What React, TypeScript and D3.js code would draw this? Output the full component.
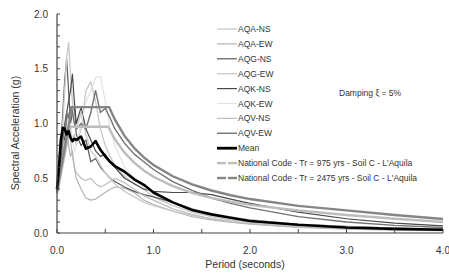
import React from "react";
import * as d3 from "d3";

const periods = [0, 0.02, 0.04, 0.06, 0.08, 0.1, 0.12, 0.14, 0.16, 0.18, 0.2, 0.25, 0.3, 0.35, 0.4, 0.45, 0.5, 0.55, 0.6, 0.7, 0.8, 0.9, 1.0, 1.2, 1.4, 1.6, 1.8, 2.0, 2.5, 3.0, 3.5, 4.0];

const aqaNS = [0.37, 0.45, 0.6, 0.75, 0.9, 1.0, 1.1, 0.95, 0.85, 0.9, 0.8, 0.95, 1.3, 1.38, 1.2, 0.95, 0.8, 0.7, 0.62, 0.52, 0.45, 0.4, 0.33, 0.25, 0.19, 0.15, 0.12, 0.1, 0.065, 0.045, 0.035, 0.028];
const aqaEW = [0.36, 0.4, 0.55, 0.7, 0.85, 0.95, 0.8, 0.7, 0.75, 0.6, 0.5, 0.4, 0.32, 0.3, 0.31, 0.34, 0.37, 0.4, 0.42, 0.41, 0.37, 0.3, 0.26, 0.2, 0.15, 0.12, 0.1, 0.08, 0.05, 0.035, 0.027, 0.022];
const aqgNS = [0.38, 0.5, 0.8, 1.1, 1.4, 1.59, 1.3, 1.0, 1.1, 1.15, 0.9, 0.8, 0.85, 0.65, 0.68, 0.6, 0.55, 0.5, 0.47, 0.42, 0.38, 0.35, 0.33, 0.28, 0.22, 0.17, 0.14, 0.12, 0.08, 0.06, 0.045, 0.035];
const aqgEW = [0.36, 0.45, 0.7, 1.0, 1.3, 1.6, 1.74, 1.45, 1.2, 1.0, 0.95, 1.1, 0.9, 0.75, 0.7, 0.62, 0.55, 0.5, 0.45, 0.38, 0.33, 0.28, 0.25, 0.2, 0.16, 0.13, 0.11, 0.09, 0.06, 0.045, 0.035, 0.03];
const aqkNS = [0.38, 0.48, 0.7, 0.9, 0.85, 1.1, 1.2, 1.3, 1.45, 1.2, 1.0, 1.15, 0.95, 0.85, 0.75, 0.7, 0.72, 0.65, 0.6, 0.5, 0.45, 0.4, 0.38, 0.37, 0.37, 0.35, 0.31, 0.27, 0.19, 0.13, 0.09, 0.065];
const aqkEW = [0.35, 0.42, 0.55, 0.65, 0.75, 0.8, 0.9, 1.0, 0.85, 0.75, 0.8, 1.0, 1.2, 1.3, 1.42, 1.43, 1.2, 0.95, 0.8, 0.6, 0.5, 0.42, 0.36, 0.28, 0.22, 0.18, 0.15, 0.12, 0.08, 0.06, 0.045, 0.035];
const aqvNS = [0.37, 0.44, 0.6, 0.8, 0.95, 0.9, 1.0, 0.85, 0.7, 0.6, 0.55, 0.5, 0.48, 0.5, 0.45, 0.42, 0.44, 0.47, 0.5, 0.46, 0.4, 0.34, 0.3, 0.22, 0.17, 0.13, 0.1, 0.085, 0.055, 0.04, 0.03, 0.025];
const aqvEW = [0.38, 0.45, 0.65, 0.85, 1.0, 1.1, 1.05, 1.15, 1.1, 1.0, 0.95, 1.0, 0.95, 1.1, 1.3, 1.1, 1.14, 1.05, 0.95, 0.82, 0.72, 0.65, 0.58, 0.47, 0.39, 0.32, 0.27, 0.23, 0.15, 0.1, 0.07, 0.05];
const meanSa = [0.4, 0.6, 0.85, 0.96, 0.95, 0.9, 0.93, 0.87, 0.84, 0.86, 0.85, 0.88, 0.77, 0.79, 0.84, 0.76, 0.7, 0.65, 0.61, 0.56, 0.49, 0.44, 0.37, 0.28, 0.21, 0.17, 0.14, 0.11, 0.075, 0.05, 0.038, 0.03];

const nc975T = [0, 0.135, 0.53, 0.6, 0.7, 0.8, 0.9, 1.0, 1.2, 1.4, 1.6, 1.8, 2.0, 2.5, 3.0, 3.5, 4.0];
const nc975Sa = [0.36, 0.97, 0.97, 0.857, 0.734, 0.643, 0.571, 0.514, 0.428, 0.367, 0.321, 0.286, 0.257, 0.206, 0.165, 0.13, 0.1];
const nc2475T = [0, 0.155, 0.54, 0.6, 0.7, 0.8, 0.9, 1.0, 1.2, 1.4, 1.6, 1.8, 2.0, 2.5, 3.0, 3.5, 4.0];
const nc2475Sa = [0.38, 1.15, 1.15, 1.035, 0.887, 0.776, 0.69, 0.621, 0.518, 0.444, 0.388, 0.345, 0.31, 0.248, 0.207, 0.165, 0.128];

const xTicks = [0, 1, 2, 3, 4];
const yTicks = [0, 0.5, 1.0, 1.5, 2.0];

const records = [
  { name: "AQA-NS", values: aqaNS, color: "#c4c4c4", width: 1.2 },
  { name: "AQA-EW", values: aqaEW, color: "#b4b4b4", width: 1.2 },
  { name: "AQG-NS", values: aqgNS, color: "#5a5a5a", width: 1.2 },
  { name: "AQG-EW", values: aqgEW, color: "#cccccc", width: 1.4 },
  { name: "AQK-NS", values: aqkNS, color: "#4a4a4a", width: 1.2 },
  { name: "AQK-EW", values: aqkEW, color: "#e2e2e2", width: 1.2 },
  { name: "AQV-NS", values: aqvNS, color: "#bdbdbd", width: 1.2 },
  { name: "AQV-EW", values: aqvEW, color: "#727272", width: 1.4 },
];

export default function App() {
  const W = 449, H = 276;
  const x = d3.scaleLinear().domain([0, 4]).range([57, 443]);
  const y = d3.scaleLinear().domain([0, 2]).range([233, 14]);
  const line = d3.line<[number, number]>().x(d => x(d[0])).y(d => y(d[1]));
  const toPts = (ts: number[], vs: number[]) => ts.map((t, i) => [t, vs[i]] as [number, number]);
  const axisColor = "#444";
  const textColor = "#333";
  const font = "'Liberation Sans', Arial, sans-serif";

  const yMinor = d3.range(0, 2.0001, 0.1);
  const xMinor = d3.range(0, 4.0001, 0.5);

  const legendItems = [
    ...records.map(r => ({ name: r.name, color: r.color, width: r.width, split: false })),
    { name: "Mean", color: "#000", width: 2.8, split: false },
    { name: "National Code - Tr = 975 yrs - Soil C - L'Aquila", color: "#bdbdbd", width: 2.4, split: true },
    { name: "National Code - Tr = 2475 yrs - Soil C - L'Aquila", color: "#858585", width: 2.4, split: true },
  ];

  return (
    <svg width={W} height={H} style={{ position: "absolute", left: 0, top: 0, background: "#fff" }} fontFamily={font}>
      <rect x={0} y={0} width={W} height={H} fill="#fff" />
      <g>
        {records.map(r => (
          <path key={r.name} d={line(toPts(periods, r.values)) || ""} fill="none" stroke={r.color} strokeWidth={r.width} strokeLinejoin="round" />
        ))}
        <path d={line(toPts(nc975T, nc975Sa)) || ""} fill="none" stroke="#bdbdbd" strokeWidth={2.4} />
        <path d={line(toPts(nc2475T, nc2475Sa)) || ""} fill="none" stroke="#858585" strokeWidth={2.4} />
        <path d={line(toPts(periods, meanSa)) || ""} fill="none" stroke="#000" strokeWidth={2.6} strokeLinejoin="round" />
      </g>
      <line x1={x(0)} x2={x(0)} y1={y(2)} y2={y(0)} stroke={axisColor} strokeWidth={1.2} />
      <line x1={x(0)} x2={x(4)} y1={y(0)} y2={y(0)} stroke={axisColor} strokeWidth={1.2} />
      {yMinor.map(v => (
        <line key={"ym" + v} x1={x(0)} x2={x(0) + 3} y1={y(v)} y2={y(v)} stroke={axisColor} strokeWidth={1} />
      ))}
      {xMinor.map(v => (
        <line key={"xm" + v} x1={x(v)} x2={x(v)} y1={y(0)} y2={y(0) - 4} stroke={axisColor} strokeWidth={1} />
      ))}
      {yTicks.map(v => (
        <text key={"yt" + v} x={48} y={y(v) + 3.5} textAnchor="end" fontSize={10} fill={textColor}>{v.toFixed(1)}</text>
      ))}
      {xTicks.map(v => (
        <text key={"xt" + v} x={x(v)} y={254} textAnchor="middle" fontSize={10} fill={textColor}>{v.toFixed(1)}</text>
      ))}
      <text x={245} y={268} textAnchor="middle" fontSize={10.5} fill={textColor}>Period (seconds)</text>
      <text transform={`translate(19,${133}) rotate(-90)`} textAnchor="middle" fontSize={10.5} fill={textColor}>Spectral Acceleration (g)</text>
      {legendItems.map((it, i) => {
        const ly = 29 + i * 14.9;
        return (
          <g key={it.name}>
            {it.split ? (
              <>
                <line x1={217} x2={226} y1={ly} y2={ly} stroke={it.color} strokeWidth={it.width} />
                <line x1={228} x2={237} y1={ly} y2={ly} stroke={it.color} strokeWidth={it.width} />
              </>
            ) : (
              <line x1={217} x2={237} y1={ly} y2={ly} stroke={it.color} strokeWidth={it.width} />
            )}
            <text x={238} y={ly + 3} fontSize={8.5} fill={textColor}>{it.name}</text>
          </g>
        );
      })}
      <text x={339} y={96} fontSize={8.5} fill={textColor}>Damping ξ = 5%</text>
    </svg>
  );
}
